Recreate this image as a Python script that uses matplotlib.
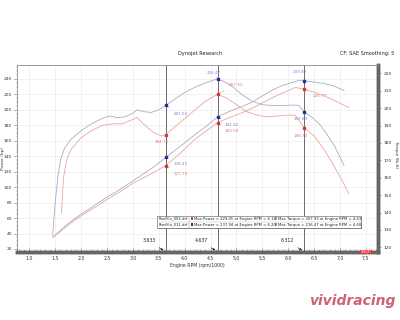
import matplotlib
matplotlib.use("Agg")
import matplotlib.pyplot as plt
from matplotlib.patches import Rectangle

# ---------------- data ----------------
rpm_pb = [1.45, 1.55, 1.7, 1.85, 2.0, 2.25, 2.5, 2.75, 3.0, 3.2, 3.4, 3.633, 3.9, 4.2, 4.4, 4.637,
          4.9, 5.1, 5.3, 5.5, 5.7, 5.9, 6.1, 6.2, 6.312, 6.5, 6.7, 6.88, 7.08]
pow_b = [35, 41, 50, 58, 65, 76, 87, 97, 108, 117, 126, 138.4, 152, 168, 178, 191.1,
         199, 204, 210, 218, 226, 232, 236, 237.9, 237.8, 236, 234, 231, 225]

rpm_pr = [1.45, 1.55, 1.7, 1.85, 2.0, 2.25, 2.5, 2.75, 3.0, 3.2, 3.4, 3.633, 3.9, 4.2, 4.4, 4.637,
          4.9, 5.1, 5.3, 5.5, 5.7, 5.9, 6.14, 6.312, 6.5, 6.7, 6.9, 7.05, 7.17]
pow_r = [35, 40, 48, 56, 63, 73, 84, 94, 105, 112, 119, 127.8, 143, 162, 172, 183.6,
         191, 196, 202, 209, 216, 222, 229, 226.8, 223, 218, 212, 207, 203]

rpm_tb = [1.45, 1.5, 1.55, 1.6, 1.68, 1.8, 2.0, 2.2, 2.4, 2.55, 2.7, 2.85, 3.0, 3.08, 3.2, 3.35,
          3.5, 3.633, 3.8, 4.0, 4.2, 4.4, 4.6, 4.75, 4.9, 5.1, 5.3, 5.5, 5.7, 5.9, 6.1, 6.2,
          6.312, 6.45, 6.6, 6.75, 6.9, 7.08]
tq_b = [127, 146, 160, 170, 177, 182, 187, 191, 194, 195.5, 194.5, 195, 197, 199, 198, 197.5,
        199, 201.5, 205, 209, 212, 214.5, 216.5, 215.5, 213, 208, 204, 202, 201.5, 201.5, 201.8, 201.6,
        197.9, 195, 191, 185, 178, 167]

rpm_tr = [1.62, 1.66, 1.72, 1.8, 2.0, 2.2, 2.4, 2.6, 2.8, 3.0, 3.08, 3.2, 3.4, 3.55, 3.633, 3.8,
          4.0, 4.2, 4.4, 4.637, 4.8, 5.0, 5.2, 5.4, 5.6, 5.8, 6.0, 6.14, 6.312, 6.5, 6.7, 6.9,
          7.05, 7.17]
tq_r = [140, 160, 170, 176, 183, 187, 190, 191, 191, 193.5, 194.7, 191, 186, 184, 184.7, 189,
        194, 199, 204, 207.9, 206, 202, 198, 196, 195, 195.5, 196, 195.9, 188.7, 184, 176, 166,
        158, 151]

cursors = [3.633, 4.637, 6.312]
cursor_labels = ["3.633", "4.637", "6.312"]

pow_marks_b = [138.42, 191.10, 237.82]
pow_marks_r = [127.79, 183.58, 226.77]
tq_marks_b = [201.52, 216.47, 197.89]
tq_marks_r = [184.73, 207.93, 188.70]

legend_files = ["RunFile_002.drf", "RunFile_011.drf"]
legend_power = ["Max Power = 229.05 at Engine RPM = 6.14", "Max Power = 237.94 at Engine RPM = 6.20"]
legend_torque = ["Max Torque = 207.93 at Engine RPM = 4.63", "Max Torque = 216.47 at Engine RPM = 4.60"]

RED = "#e8a6a6"
BLUE = "#ababc8"
RED_D = "#d9343a"
BLUE_D = "#2a2aa8"
RED_T = "#e07c7c"
BLUE_T = "#8080cc"

W, H = 400, 320
fig = plt.figure(figsize=(4, 3.2), dpi=100)
fig.patch.set_facecolor("white")

def fx(x):
    return x / W

def fy(y):
    return 1 - y / H

ax = fig.add_axes([fx(16.7), fy(252), fx(377.7) - fx(16.7), fy(65) - fy(252)])
ax2 = ax.twinx()

ax.set_xlim(0.756, 7.73)
ax.set_ylim(16.1, 258.1)
ax2.set_ylim(117.3, 224.8)

ax.plot(rpm_pb, pow_b, color=BLUE, lw=0.6)
ax.plot(rpm_pr, pow_r, color=RED, lw=0.6)
ax2.plot(rpm_tb, tq_b, color=BLUE, lw=0.6)
ax2.plot(rpm_tr, tq_r, color=RED, lw=0.6)

ax.set_xticks([1.0, 1.5, 2.0, 2.5, 3.0, 3.5, 4.0, 4.5, 5.0, 5.5, 6.0, 6.5, 7.0, 7.5])
ax.set_xticks([x / 10 for x in range(8, 78)], minor=True)
ax.set_yticks(list(range(20, 260, 20)))
ax.set_yticks(list(range(20, 260, 5)), minor=True)
ax2.set_yticks(list(range(120, 230, 10)))
ax2.set_yticks(list(range(118, 226, 2)), minor=True)
ax.grid(True, which="major", color="#ececec", lw=0.5)
ax.set_axisbelow(True)

ax.tick_params(axis="x", which="major", direction="in", length=3, width=0.5, color="#444",
               labelsize=3.3, pad=3, labelcolor="#333")
ax.tick_params(axis="x", which="minor", direction="in", length=2, width=0.4, color="#444")
ax.tick_params(axis="y", which="major", direction="out", length=2, width=0.4, color="#666",
               labelsize=3.2, pad=1.3, labelcolor="#333")
ax.tick_params(axis="y", which="minor", direction="out", length=1, width=0.3, color="#888")
ax2.tick_params(axis="y", which="major", direction="out", length=2.5, width=0.4, color="#666",
                labelsize=3.2, pad=1.8, labelcolor="#333")
ax2.tick_params(axis="y", which="minor", direction="out", length=1, width=0.3, color="#888")
ax.set_xticklabels([f"{v:.1f}" for v in ax.get_xticks()])

for a in (ax, ax2):
    a.spines["top"].set_color("#999")
    a.spines["top"].set_linewidth(0.6)
    a.spines["left"].set_color("#999")
    a.spines["left"].set_linewidth(0.6)
    a.spines["bottom"].set_color("#666")
    a.spines["bottom"].set_linewidth(2.5)
    a.spines["right"].set_color("#666")
    a.spines["right"].set_linewidth(2.5)

ax.set_xlabel("Engine RPM (rpm/1000)", fontsize=3.3, labelpad=1.5, color="#333")
ax.set_ylabel("Power (hp)", fontsize=3.1, color="#333", va="center")
ax.yaxis.set_label_coords(-0.037, 0.5)
ax2.set_ylabel("Torque (lb-ft)", fontsize=3.1, color="#333", rotation=270, va="center")
ax2.yaxis.set_label_coords(1.05, 0.52)

for c, lab in zip(cursors, cursor_labels):
    ax.axvline(c, color="#555", lw=0.6, zorder=3)
    ax.annotate(lab, xy=(c, 16.1), xycoords="data", xytext=(-12, 7), textcoords="offset points",
                fontsize=3.3, color="#222", ha="center",
                arrowprops=dict(arrowstyle="-|>", color="#111", lw=0.4, mutation_scale=3))

def mark(a, x, y, txt, col, tcol, dx, dy):
    a.plot([x], [y], marker="s", ms=1.6, color=col, zorder=5)
    a.annotate(txt, xy=(x, y), xytext=(dx, dy), textcoords="offset points", fontsize=3.0,
               color=tcol, ha="left", va="center",
               arrowprops=dict(arrowstyle="-", color=tcol, lw=0.3))

offs_pb = [(6, -5), (5, -6), (-8, 6)]
offs_pr = [(6, -6), (5, -6), (6, -5)]
offs_tb = [(6, -6), (-8, 5), (-8, -5)]
offs_tr = [(-8, -5), (8, 7), (-8, -6)]
for i, c in enumerate(cursors):
    dx, dy = offs_pb[i]
    mark(ax, c, pow_marks_b[i], f"{pow_marks_b[i]:.2f}", BLUE_D, BLUE_T, dx, dy)
    dx, dy = offs_pr[i]
    mark(ax, c, pow_marks_r[i], f"{pow_marks_r[i]:.2f}", RED_D, RED_T, dx, dy)
    dx, dy = offs_tb[i]
    mark(ax2, c, tq_marks_b[i], f"{tq_marks_b[i]:.2f}", BLUE_D, BLUE_T, dx, dy)
    dx, dy = offs_tr[i]
    mark(ax2, c, tq_marks_r[i], f"{tq_marks_r[i]:.2f}", RED_D, RED_T, dx, dy)

lx0, lx1, ly0, ly1 = 157.3, 360.5, 215.7, 227.5
fig.patches.append(Rectangle((fx(lx0 + 1.5), fy(ly1 + 1.5)), fx(lx1 - lx0), fy(ly0) - fy(ly1),
                             transform=fig.transFigure, facecolor="#777", edgecolor="none", zorder=5))
fig.patches.append(Rectangle((fx(lx0), fy(ly1)), fx(lx1 - lx0), fy(ly0) - fy(ly1),
                             transform=fig.transFigure, facecolor="white", edgecolor="#555", lw=0.4, zorder=6))
fig.lines.append(plt.Line2D([fx(lx0), fx(lx1)], [fy(221.6), fy(221.6)], transform=fig.transFigure,
                            color="#bbb", lw=0.3, zorder=7))
fig.lines.append(plt.Line2D([fx(189.3), fx(189.3)], [fy(ly0), fy(ly1)], transform=fig.transFigure,
                            color="#999", lw=0.3, zorder=7))
sq_cols = [(RED_D, "#e78a8a"), (BLUE_D, "#8f8fd6")]
for r, yy in enumerate([218.7, 224.6]):
    fig.text(fx(158.5), fy(yy), legend_files[r], fontsize=2.7, va="center", color="#222", zorder=8)
    fig.patches.append(Rectangle((fx(190.5), fy(yy + 1.3)), fx(2.6), fy(yy - 1.3) - fy(yy + 1.3),
                                 transform=fig.transFigure, facecolor=sq_cols[r][0], zorder=8))
    fig.text(fx(194.5), fy(yy), legend_power[r], fontsize=2.7, va="center", color="#222", zorder=8)
    fig.patches.append(Rectangle((fx(274.5), fy(yy + 1.3)), fx(2.6), fy(yy - 1.3) - fy(yy + 1.3),
                                 transform=fig.transFigure, facecolor=sq_cols[r][1], zorder=8))
    fig.text(fx(278.5), fy(yy), legend_torque[r], fontsize=2.7, va="center", color="#222", zorder=8)

fig.patches.append(Rectangle((fx(360), fy(254)), fx(12), fy(250) - fy(254), transform=fig.transFigure,
                             facecolor="#d33", edgecolor="none", zorder=9))
fig.text(fx(366), fy(252), "DYNOJET", fontsize=1.8, color="white", ha="center", va="center", zorder=10)

fig.text(fx(200), fy(53), "Dynojet Research", fontsize=3.6, ha="center", va="center", color="#222")
fig.text(fx(394), fy(53), "CF: SAE Smoothing: 5", fontsize=3.6, ha="right", va="center", color="#222")

fig.text(fx(395), fy(301), "vividracing", fontsize=10, fontweight="bold", fontstyle="italic",
         color="#c6475a", ha="right", va="center", alpha=0.85)

fig.savefig("out.png", dpi=100, facecolor="white")
